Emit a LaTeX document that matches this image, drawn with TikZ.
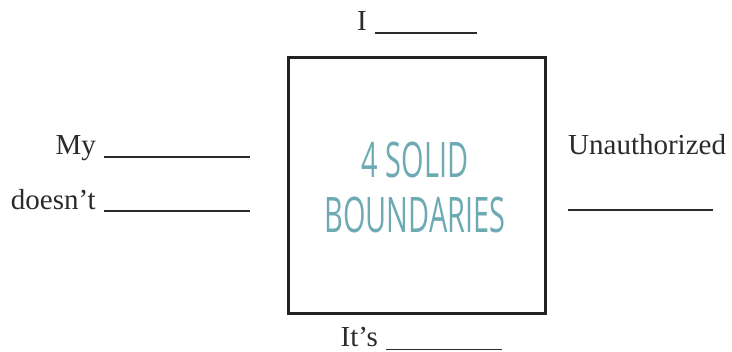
\documentclass[tikz,border=0pt]{standalone}
\usepackage{fontspec}
\usepackage{xcolor}
\usetikzlibrary{positioning}
\setmainfont{Liberation Serif}
\newfontfamily\condfont[FakeStretch=0.59]{Open Sans}
\definecolor{ink}{HTML}{2B2B2B}
\definecolor{frame}{HTML}{222222}
\definecolor{teal}{HTML}{6DAAB4}
\tikzset{
  prompt/.style={inner sep=0pt,text=ink,font=\fontsize{29}{32}\selectfont},
  blank/.style={draw=ink,line width=1.4pt},
  square/.style={draw=frame,line width=3pt},
  title/.style={inner sep=0pt,text=teal,align=center,
    font=\condfont\fontsize{49}{55}\selectfont}
}

\begin{document}
\begin{tikzpicture}[x=1pt,y=1pt]
\useasboundingbox (0,0) rectangle (732,-352);
% the square
\draw[square] (288.5,-58) rectangle (545.5,-313.5);
\node[title,anchor=base] (head) at (415,-178) {4 SOLID};
\node[title,anchor=base] (tail) at (415,-233) {BOUNDARIES};
% top
\node[prompt,anchor=base east] (i) at (367,-31) {I};
\coordinate (ia) at (375,-33);
\coordinate (ib) at (477,-33);
\draw[blank] (ia) -- (ib);
% left
\node[prompt,anchor=base east] (my) at (96,-155) {My};
\coordinate (mya) at (104,-157);
\coordinate (myb) at (250,-157);
\draw[blank] (mya) -- (myb);
\node[prompt,anchor=base east] (doesnt) at (96,-210) {doesn’t};
\coordinate (da) at (104,-211);
\coordinate (db) at (250,-211);
\draw[blank] (da) -- (db);
% right
\node[prompt,anchor=base west] (unauth) at (568,-155) {Unauthorized};
\coordinate (ua) at (568,-210);
\coordinate (ub) at (713,-210);
\draw[blank] (ua) -- (ub);
% bottom
\node[prompt,anchor=base east] (its) at (378,-347) {It’s};
\coordinate (ta) at (386,-349.5);
\coordinate (tb) at (502,-349.5);
\draw[blank] (ta) -- (tb);
\end{tikzpicture}
\end{document}
